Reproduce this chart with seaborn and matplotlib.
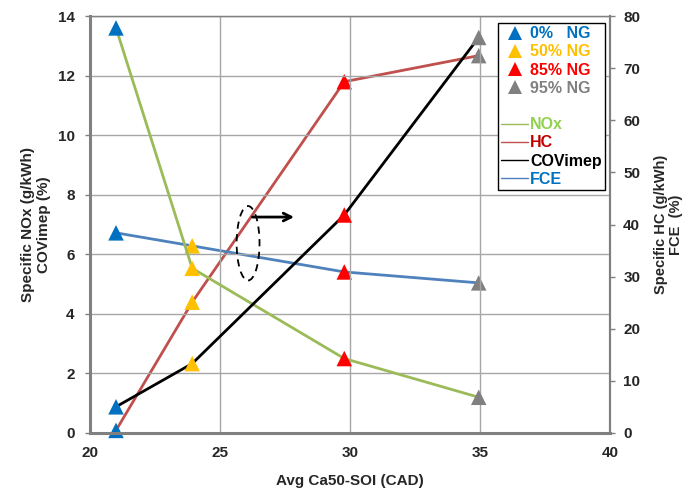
import matplotlib
matplotlib.use("Agg")
import matplotlib.pyplot as plt
from matplotlib.lines import Line2D
from matplotlib.patches import Ellipse
import seaborn as sns
import pandas as pd

# Operating points: average CA50 minus start of injection (CAD)
ng_levels = ["0%   NG", "50% NG", "85% NG", "95% NG"]
ca50_soi = [21.0, 23.93, 29.78, 34.95]

# Left axis series
nox = [13.6, 5.53, 2.5, 1.2]        # Specific NOx (g/kWh)
covimep = [0.88, 2.33, 7.32, 13.28]  # COVimep (%)

# Right axis series
hc = [0.5, 25.1, 67.4, 72.4]         # Specific HC (g/kWh)
fce = [38.4, 35.9, 30.9, 28.8]       # FCE (%)

ng_colors = ["#0070C0", "#FFC000", "#FF0000", "#808080"]
line_colors = {"NOx": "#9BBB59", "HC": "#C0504D", "COVimep": "#000000", "FCE": "#4F81BD"}
legend_text_colors = {"NOx": "#92D050", "HC": "#C00000", "COVimep": "#000000", "FCE": "#0070C0"}

left_df = pd.DataFrame({
    "x": ca50_soi * 2,
    "value": nox + covimep,
    "series": ["NOx"] * 4 + ["COVimep"] * 4,
    "ng": ng_levels * 2,
})
right_df = pd.DataFrame({
    "x": ca50_soi * 2,
    "value": hc + fce,
    "series": ["HC"] * 4 + ["FCE"] * 4,
    "ng": ng_levels * 2,
})

sns.set_style("white")
plt.rcParams["font.family"] = ["Liberation Sans", "DejaVu Sans"]
plt.rcParams["font.weight"] = "bold"

W, H = 686, 491
fig = plt.figure(figsize=(W / 100, H / 100), dpi=100)
ax = fig.add_axes([90 / W, 1 - 433 / H, 520 / W, 417 / H])
ax2 = ax.twinx()

ax.set_zorder(2)
ax.patch.set_visible(False)

grey = "#808080"

# Lines
for name, sub in left_df.groupby("series", sort=False):
    sns.lineplot(data=sub, x="x", y="value", color=line_colors[name], lw=2,
                 ax=ax, legend=False, sort=False, zorder=3)
for name, sub in right_df.groupby("series", sort=False):
    sns.lineplot(data=sub, x="x", y="value", color=line_colors[name], lw=2,
                 ax=ax2, legend=False, sort=False, zorder=3)

# Triangle markers coloured by NG fraction
palette = dict(zip(ng_levels, ng_colors))
sns.scatterplot(data=left_df, x="x", y="value", hue="ng", palette=palette,
                marker="^", s=125, linewidth=0, ax=ax, legend=False, zorder=5,
                clip_on=False)
sns.scatterplot(data=right_df, x="x", y="value", hue="ng", palette=palette,
                marker="^", s=125, linewidth=0, ax=ax2, legend=False, zorder=5,
                clip_on=False)

# Axes ranges and ticks
ax.set_xlim(20, 40)
ax.set_ylim(0, 14)
ax2.set_ylim(0, 80)
ax.set_xticks([20, 25, 30, 35, 40])
ax.set_yticks(range(0, 15, 2))
ax2.set_yticks(range(0, 81, 10))

ax.grid(True, color="#A6A6A6", lw=1)
ax2.grid(False)

for a in (ax, ax2):
    for s in a.spines.values():
        s.set_color(grey)
    a.tick_params(axis="both", which="both", length=3.5, width=1, color=grey,
                  labelsize=11, direction="out")
    for lab in a.get_yticklabels() + a.get_xticklabels():
        lab.set_fontweight("bold")
ax.tick_params(axis="y", pad=7.5, right=False)
ax.tick_params(axis="x", pad=6)
ax2.tick_params(axis="y", pad=6)
ax.spines["left"].set_linewidth(2.2)
ax.spines["bottom"].set_linewidth(2.2)
ax.spines["top"].set_linewidth(1)
ax.spines["right"].set_linewidth(1.5)
ax2.spines["right"].set_linewidth(1.5)
ax2.spines["left"].set_visible(False)
ax2.spines["bottom"].set_visible(False)

ax.set_xlabel("Avg Ca50-SOI (CAD)", fontsize=11, fontweight="bold", labelpad=10)
ax.set_ylabel("Specific NOx (g/kWh)\nCOVimep (%)", fontsize=11, fontweight="bold", labelpad=5)
ax2.set_ylabel("Specific HC (g/kWh)\nFCE  (%)", fontsize=10.5, fontweight="bold",
               labelpad=10, linespacing=1.1)

# Dashed ellipse with arrow pointing to the right-hand axis
ax.add_patch(Ellipse((26.08, 6.37), 0.88, 2.5, fill=False, ls=(0, (4, 3)),
                     lw=1.3, ec="black", zorder=6))
ax.annotate("", xy=(27.85, 7.25), xytext=(26.25, 7.25),
            arrowprops=dict(arrowstyle="->", lw=2, color="black",
                            shrinkA=0, shrinkB=0, mutation_scale=14), zorder=6)

# Legend
handles = [Line2D([], [], marker="^", ls="none", color=c, markersize=10.5, markeredgewidth=0)
           for c in ng_colors]
labels = list(ng_levels)
handles.append(Line2D([], [], ls="none"))
labels.append(" ")
for name in ["NOx", "HC", "COVimep", "FCE"]:
    handles.append(Line2D([], [], color=line_colors[name], lw=1))
    labels.append(name)

leg = ax.legend(handles, labels, loc="upper left",
                bbox_to_anchor=((498 - 90) / 520, (433 - 23) / 417),
                borderaxespad=0, frameon=True, fancybox=False, edgecolor="black",
                framealpha=1, handlelength=1.7, handletextpad=0.1, labelspacing=0.2,
                borderpad=0.2, prop={"weight": "bold", "size": 11.5})
leg.get_frame().set_linewidth(1)
text_colors = ng_colors + ["black"] + [legend_text_colors[n] for n in ["NOx", "HC", "COVimep", "FCE"]]
for t, c in zip(leg.get_texts(), text_colors):
    t.set_color(c)
leg.set_zorder(10)

fig.savefig("out.png", dpi=100)
